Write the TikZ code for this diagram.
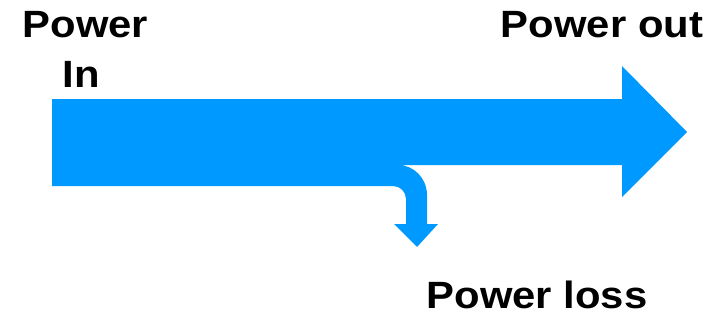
\documentclass[tikz,border=0pt]{standalone}
\usepackage{fontspec}
\setmainfont{Liberation Sans}
\definecolor{flowblue}{HTML}{0099FF}
\tikzset{
  lbl/.style={font=\fontsize{38}{44}\selectfont\bfseries, inner sep=0pt, anchor=base, text=black, xscale=1.1},
  flow/.style={fill=flowblue, draw=none}
}
\begin{document}
\begin{tikzpicture}[x=1pt,y=-1pt]
\useasboundingbox (0,0) rectangle (723,321);
% main flow with loss branch
\fill[flow] (52,99) -- (622,99) -- (622,66) -- (687,132) -- (622,197) -- (622,165)
  -- (398,165) arc[start angle=90, end angle=0, x radius=29, y radius=-30]
  -- (427,224) -- (438,224) -- (417,247) -- (394,224) -- (406,224)
  -- (406,199) arc[start angle=0, end angle=90, x radius=13, y radius=-13]
  -- (52,186) -- cycle;
\node[lbl] (pin1) at (85.5,38) {Power};
\node[lbl] (pin2) at (81,88) {In};
\node[lbl] (pout) at (602,38) {Power out};
\node[lbl] (ploss) at (537,308) {Power loss};
\end{tikzpicture}
\end{document}
